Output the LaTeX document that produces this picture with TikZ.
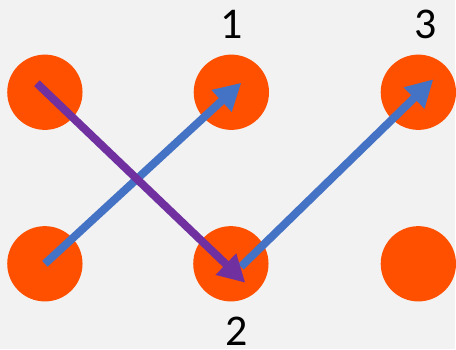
\documentclass[tikz,border=0pt]{standalone}
\usepackage{fontspec}
\setmainfont{Carlito}
\usetikzlibrary{arrows.meta,calc}
\definecolor{spotc}{HTML}{FF5000}
\definecolor{hop}{HTML}{4472C4}
\definecolor{jump}{HTML}{7030A0}
\definecolor{wash}{HTML}{F2F2F2}
\tikzset{
  spot/.style={circle, fill=spotc, minimum size=75.5pt, inner sep=0pt},
  num/.style={font=\fontsize{44}{44}\selectfont, anchor=base, inner sep=0pt},
  ar/.style={-{Triangle[length=27pt,width=28pt]}, line width=8pt},
}
\begin{document}
\begin{tikzpicture}[x=1pt, y=-1pt]
  % --- background, fixes the page size ---
  \fill[wash] (0,0) rectangle (456,350);

  % --- the six dots: top row c1..c3, bottom row c4..c6 ---
  \foreach \n/\x/\y in {c1/45/92.5, c2/232/92.5, c3/419.5/92.5,
                        c4/45/264.5, c5/231.5/264.5, c6/419.5/264.5}
    \node[spot] (\n) at (\x,\y) {};

  % --- labels ---
  \node[num] (n1) at (232,39) {1};
  \node[num] (n3) at (427,39) {3};
  \node[num] (n2) at (237,346) {2};

  % --- moves: blue first, purple on top ---
  \draw[ar, draw=hop, fill=hop] (c4.center) -- ($(c2.center)+(10,-9.5)$);
  \draw[ar, draw=hop, fill=hop] ($(c5.center)+(10,3)$) -- ($(c3.center)+(15,-13)$);
  \draw[ar, draw=jump, fill=jump] ($(c1.center)+(-8,-9)$) -- ($(c5.center)+(14.5,19)$);
\end{tikzpicture}
\end{document}
